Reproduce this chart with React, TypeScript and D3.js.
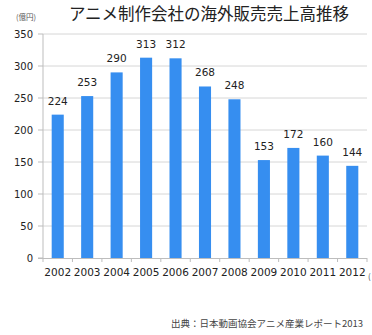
import React from "react";
import * as d3 from "d3";

const years = ["2002", "2003", "2004", "2005", "2006", "2007", "2008", "2009", "2010", "2011", "2012"];
const values = [224, 253, 290, 313, 312, 268, 248, 153, 172, 160, 144];
const yTicks = [0, 50, 100, 150, 200, 250, 300, 350];
const title = "アニメ制作会社の海外販売売上高推移";
const unitLabel = "(億円)";
const sourceLabel = "出典：日本動画協会アニメ産業レポート2013";
const xUnitLabel = "(";

const W = 372;
const H = 335;
const left = 43;
const right = 367;
const top = 34;
const bottom = 258;
const barColor = "#368ef0";
const latin = "Verdana, 'DejaVu Sans', sans-serif";
const cjk = "'Noto Sans CJK JP', 'Noto Sans', sans-serif";

export default function App() {
  const x = d3.scaleBand<string>().domain(years).range([left, right]).paddingInner(0.59).paddingOuter(0.295);
  const xb = d3.scaleBand<string>().domain(years).range([left, right]);
  const y = d3.scaleLinear().domain([0, 350]).range([bottom, top]);

  return (
    <svg width={W} height={H} style={{ position: "absolute", left: 0, top: 0, background: "#fff" }}>
      <rect x={0} y={0} width={W} height={H} fill="#fff" />
      <text x={209} y={20} textAnchor="middle" fontFamily={cjk} fontSize={16.5} fill="#222">
        {title}
      </text>
      <text x={26} y={20} textAnchor="middle" fontFamily={cjk} fontSize={7.5} fill="#555">
        {unitLabel}
      </text>
      {yTicks.map((t) => (
        <g key={t}>
          {t > 0 && <line x1={left} x2={right} y1={y(t)} y2={y(t)} stroke="#d6d6d6" strokeWidth={1} />}
          <line x1={left - 5} x2={left} y1={y(t)} y2={y(t)} stroke="#bdbdbd" strokeWidth={1} />
          <text x={33} y={y(t)} dy="0.35em" textAnchor="end" fontFamily={latin} fontSize={10} fill="#222">
            {t}
          </text>
        </g>
      ))}
      <line x1={left} x2={left} y1={top} y2={bottom} stroke="#bdbdbd" strokeWidth={1} />
      {years.map((yr, i) => (
        <g key={yr}>
          <rect x={x(yr)} y={y(values[i])} width={x.bandwidth()} height={bottom - y(values[i])} fill={barColor} />
          <text
            x={(x(yr) as number) + x.bandwidth() / 2}
            y={y(values[i]) - 10}
            textAnchor="middle"
            fontFamily={latin}
            fontSize={10.5}
            fill="#222"
          >
            {values[i]}
          </text>
          <text
            x={(x(yr) as number) + x.bandwidth() / 2}
            y={276}
            textAnchor="middle"
            fontFamily={latin}
            fontSize={10.5}
            fill="#222"
          >
            {yr}
          </text>
        </g>
      ))}
      {years.map((yr) => (
        <line key={"t" + yr} x1={xb(yr)} x2={xb(yr)} y1={bottom} y2={bottom + 4} stroke="#bdbdbd" />
      ))}
      <line x1={right} x2={right} y1={bottom} y2={bottom + 4} stroke="#bdbdbd" />
      <line x1={left - 5} x2={right} y1={bottom + 0.5} y2={bottom + 0.5} stroke="#bdbdbd" strokeWidth={1} />
      <text x={368} y={279} fontFamily={cjk} fontSize={8} fill="#444">{xUnitLabel}</text>
      <text x={363} y={327} textAnchor="end" fontFamily={cjk} fontSize={9.5} fill="#444">
        {sourceLabel}
      </text>
    </svg>
  );
}
